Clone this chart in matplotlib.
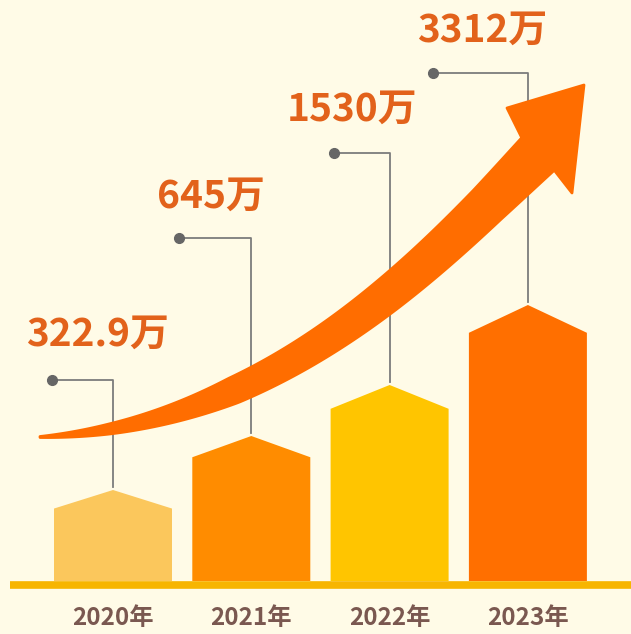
import matplotlib
matplotlib.use('Agg')
import matplotlib.pyplot as plt
from matplotlib.patches import Polygon
import numpy as np

plt.rcParams['font.family'] = ['Noto Sans CJK SC', 'DejaVu Sans']

# ===== 数据 =====
years = ['2020年', '2021年', '2022年', '2023年']
values = [322.9, 645, 1530, 3312]          # 万
labels = ['322.9万', '645万', '1530万', '3312万']
bar_heights = [91, 145, 196, 276]           # 图中柱高(示意, 非比例)
bar_colors = ['#FBC75C', '#FF8C00', '#FFC500', '#FF6F00']

# ===== 布局 (像素坐标, y向下) =====
W, H = 631, 634
x0, step, bw = 113, 138.3, 118
base_y = 581
dot_dx = [61, 72, 56, 95]
dot_y = [380, 238, 153, 73]
label_x = [26, 157, 287, 417]
label_y = [334, 196, 109, 30]

BG = '#FFFBE7'
fig = plt.figure(figsize=(W / 100, H / 100), dpi=100, facecolor=BG)
ax = fig.add_axes([0, 0, 1, 1])
ax.set_xlim(0, W); ax.set_ylim(H, 0)
ax.axis('off')
ax.set_facecolor(BG)

# 柱子 (房子形状)
for i, (h, c) in enumerate(zip(bar_heights, bar_colors)):
    cx = x0 + i * step
    roof = 14 + 0.05 * h
    top = base_y - h
    pts = [(cx - bw / 2, base_y), (cx - bw / 2, top + roof), (cx, top),
           (cx + bw / 2, top + roof), (cx + bw / 2, base_y)]
    ax.add_patch(Polygon(pts, closed=True, facecolor=c, edgecolor='none', zorder=2))

# 底线
ax.plot([10, W + 10], [base_y + 4, base_y + 4], color='#F7B500', lw=5.5,
        solid_capstyle='butt', zorder=3, clip_on=False)

# 年份
for i, y in enumerate(years):
    ax.text(x0 + i * step, 618, y, ha='center', va='center', fontsize=17.5,
            color='#7A5850', fontweight='bold')

# 引线 + 数值
for i, h in enumerate(bar_heights):
    cx = x0 + i * step
    top = base_y - h
    ax.plot([cx - dot_dx[i], cx, cx], [dot_y[i], dot_y[i], top - 3],
            color='#7C7C7C', lw=1.3, zorder=4)
    ax.plot(cx - dot_dx[i], dot_y[i], 'o', color='#666666', ms=7, zorder=5)
    ax.text(label_x[i], label_y[i], labels[i], ha='left', va='center',
            fontsize=28, fontweight='black', color='#E2621B', zorder=6)

# 弯曲箭头
P = np.array([[40, 437], [280, 425], [433, 259], [538, 154]], float)
t = np.linspace(0, 1, 200)[:, None]
curve = ((1 - t) ** 3 * P[0] + 3 * (1 - t) ** 2 * t * P[1]
         + 3 * (1 - t) * t ** 2 * P[2] + t ** 3 * P[3])
d = (3 * (1 - t) ** 2 * (P[1] - P[0]) + 6 * (1 - t) * t * (P[2] - P[1])
     + 3 * t ** 2 * (P[3] - P[2]))
d /= np.linalg.norm(d, axis=1, keepdims=True)
nrm = np.column_stack([d[:, 1], -d[:, 0]])
wid = np.interp(t.ravel(), [0, 0.1, 0.3, 0.6, 0.85, 1], [1, 10, 26, 34, 40, 46])
edge_l = curve + nrm * wid[:, None] / 2
edge_r = curve - nrm * wid[:, None] / 2
head = np.array([[507, 108], [584, 85], [572, 193]])
arrow = np.vstack([edge_l, head, edge_r[::-1]])
ax.add_patch(Polygon(arrow, closed=True, facecolor='#FF6D00', edgecolor='#FF6D00',
                     lw=2, joinstyle='round', zorder=7))

fig.savefig('out.png', dpi=100, facecolor=BG)
